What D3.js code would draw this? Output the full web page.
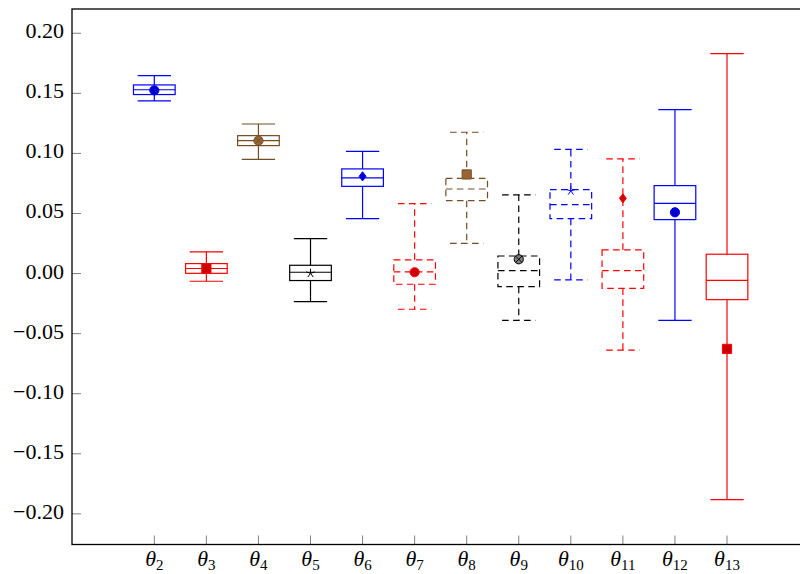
<!DOCTYPE html>
<html>
<head>
<meta charset="utf-8">
<script src="https://cdn.jsdelivr.net/npm/d3@7"></script>
<style>
  body { margin: 0; background: #fff; }
  svg { display: block; }
</style>
</head>
<body>
<script>
// parameter indices shown under each box (theta_2 ... theta_13)
var params = ["2", "3", "4", "5", "6", "7", "8", "9", "10", "11", "12", "13"];

// box plot statistics
var upperWhisker = [0.1647, 0.0181, 0.1245, 0.0291, 0.1017, 0.0582, 0.1176, 0.0655, 0.1034, 0.0954, 0.1364, 0.1830];
var upperQuartile = [0.1570, 0.0083, 0.1148, 0.0069, 0.0871, 0.0114, 0.0793, 0.0146, 0.0699, 0.0197, 0.0732, 0.0161];
var medians = [0.1530, 0.0042, 0.1106, 0.0011, 0.0796, 0.0014, 0.0704, 0.0025, 0.0574, 0.0024, 0.0585, -0.0056];
var lowerQuartile = [0.1490, 0.0002, 0.1065, -0.0058, 0.0726, -0.0089, 0.0607, -0.0109, 0.0458, -0.0123, 0.0449, -0.0217];
var lowerWhisker = [0.1437, -0.0064, 0.0951, -0.0233, 0.0458, -0.0297, 0.0252, -0.0389, -0.0052, -0.0638, -0.0389, -0.1881];
var means = [0.1525, 0.0042, 0.1106, 0.0002, 0.0809, 0.0011, 0.0825, 0.0119, 0.0688, 0.0626, 0.0510, -0.0627];

var yTicks = [-0.20, -0.15, -0.10, -0.05, 0.00, 0.05, 0.10, 0.15, 0.20];

// pgfplots style cycle (line colour, mark fill, dashed, mark)
var styles = [
    {line: "#0000ff", fill: "#0000cc", dashed: false, mark: "circle"},
    {line: "#ff0000", fill: "#cc0000", dashed: false, mark: "square"},
    {line: "#734d26", fill: "#996633", dashed: false, mark: "otimes"},
    {line: "#000000", fill: "none",    dashed: false, mark: "star"},
    {line: "#0000ff", fill: "#0000cc", dashed: false, mark: "diamond"},
    {line: "#ff0000", fill: "#cc0000", dashed: true,  mark: "circle"},
    {line: "#734d26", fill: "#996633", dashed: true,  mark: "square"},
    {line: "#000000", fill: "#808080", dashed: true,  mark: "otimes"},
    {line: "#0000ff", fill: "none",    dashed: true,  mark: "star"},
    {line: "#ff0000", fill: "#cc0000", dashed: true,  mark: "diamond"},
    {line: "#0000ff", fill: "#0000cc", dashed: false, mark: "circle"},
    {line: "#ff0000", fill: "#cc0000", dashed: false, mark: "square"}
];

var boxes = params.map(function(p, i) {
    return {
        pos: i + 1, label: p,
        hi: upperWhisker[i], q3: upperQuartile[i], med: medians[i],
        q1: lowerQuartile[i], lo: lowerWhisker[i], mean: means[i],
        style: styles[i]
    };
});

var width = 800, height = 574;
var plotLeft = 72, plotTop = 9, plotRight = 820, plotBottom = 544.5;
var serif = "'Liberation Serif', 'DejaVu Serif', serif";

var svg = d3.select("body").append("svg")
    .attr("width", width)
    .attr("height", height)
    .attr("font-family", serif);

var x = d3.scaleLinear().domain([-0.581, 13.786]).range([plotLeft, plotRight]);
var y = d3.scaleLinear().domain([-0.2255, 0.2202]).range([plotBottom, plotTop]);

var boxHalf = 0.4;      // box extend 0.8
var capHalf = 0.32;     // whisker extend 0.8 * box extend
var r = 4.6;            // mark size
var dash = "6.6,4.4";   // densely dashed

// axes: ticks inside, labels outside
var yAxis = svg.append("g");
yAxis.selectAll("line").data(yTicks).enter().append("line")
    .attr("x1", plotLeft).attr("x2", plotLeft + 9)
    .attr("y1", function(d) { return y(d); })
    .attr("y2", function(d) { return y(d); })
    .attr("stroke", "#808080").attr("stroke-width", 1);
yAxis.selectAll("text").data(yTicks).enter().append("text")
    .attr("x", 64)
    .attr("y", function(d) { return y(d) + 5; })
    .attr("text-anchor", "end")
    .attr("font-size", "22px")
    .text(function(d) { return d3.format(".2f")(d).replace("-", "\u2212"); });

var xAxis = svg.append("g");
xAxis.selectAll("line").data(boxes).enter().append("line")
    .attr("x1", function(d) { return x(d.pos); })
    .attr("x2", function(d) { return x(d.pos); })
    .attr("y1", plotBottom).attr("y2", plotBottom - 9)
    .attr("stroke", "#808080").attr("stroke-width", 1);
var lbl = xAxis.selectAll("text").data(boxes).enter().append("text")
    .attr("x", function(d) { return x(d.pos); })
    .attr("y", 566)
    .attr("text-anchor", "middle")
    .attr("font-size", "22px");
lbl.append("tspan").attr("font-style", "italic").text("\u03b8");
lbl.append("tspan").attr("font-size", "15px").attr("dy", 4)
    .text(function(d) { return d.label; });

// frame (right side falls outside the window)
svg.append("rect")
    .attr("x", plotLeft).attr("y", plotTop)
    .attr("width", plotRight - plotLeft).attr("height", plotBottom - plotTop)
    .attr("fill", "none").attr("stroke", "#000").attr("stroke-width", 1.3);

// boxes
var g = svg.selectAll("g.box").data(boxes).enter().append("g")
    .attr("class", "box")
    .attr("stroke", function(d) { return d.style.line; })
    .attr("stroke-width", 1.2)
    .attr("fill", "none")
    .attr("stroke-dasharray", function(d) { return d.style.dashed ? dash : null; });

g.append("line")
    .attr("x1", function(d) { return x(d.pos); }).attr("x2", function(d) { return x(d.pos); })
    .attr("y1", function(d) { return y(d.q3); }).attr("y2", function(d) { return y(d.hi); });
g.append("line")
    .attr("x1", function(d) { return x(d.pos); }).attr("x2", function(d) { return x(d.pos); })
    .attr("y1", function(d) { return y(d.q1); }).attr("y2", function(d) { return y(d.lo); });
g.append("line")
    .attr("x1", function(d) { return x(d.pos - capHalf); }).attr("x2", function(d) { return x(d.pos + capHalf); })
    .attr("y1", function(d) { return y(d.hi); }).attr("y2", function(d) { return y(d.hi); });
g.append("line")
    .attr("x1", function(d) { return x(d.pos - capHalf); }).attr("x2", function(d) { return x(d.pos + capHalf); })
    .attr("y1", function(d) { return y(d.lo); }).attr("y2", function(d) { return y(d.lo); });
g.append("rect")
    .attr("x", function(d) { return x(d.pos - boxHalf); })
    .attr("width", function(d) { return x(d.pos + boxHalf) - x(d.pos - boxHalf); })
    .attr("y", function(d) { return y(d.q3); })
    .attr("height", function(d) { return y(d.q1) - y(d.q3); });
g.append("line")
    .attr("x1", function(d) { return x(d.pos - boxHalf); }).attr("x2", function(d) { return x(d.pos + boxHalf); })
    .attr("y1", function(d) { return y(d.med); }).attr("y2", function(d) { return y(d.med); });

// mean marks
function markPath(type) {
    var p = d3.path();
    if (type === "circle" || type === "otimes") {
        p.arc(0, 0, r, 0, 2 * Math.PI);
        if (type === "otimes") {
            var k = r * Math.SQRT1_2;
            p.moveTo(-k, -k); p.lineTo(k, k);
            p.moveTo(-k, k); p.lineTo(k, -k);
        }
    } else if (type === "square") {
        p.rect(-r, -r, 2 * r, 2 * r);
    } else if (type === "diamond") {
        p.moveTo(0, -r); p.lineTo(0.75 * r, 0); p.lineTo(0, r); p.lineTo(-0.75 * r, 0); p.closePath();
    } else if (type === "star") {
        for (var i = 0; i < 5; i++) {
            var a = -Math.PI / 2 + i * 2 * Math.PI / 5;
            p.moveTo(0, 0); p.lineTo(r * Math.cos(a), r * Math.sin(a));
        }
    }
    return p.toString();
}

svg.selectAll("path.mean").data(boxes).enter().append("path")
    .attr("class", "mean")
    .attr("transform", function(d) { return "translate(" + x(d.pos) + "," + y(d.mean) + ")"; })
    .attr("d", function(d) { return markPath(d.style.mark); })
    .attr("fill", function(d) { return d.style.fill; })
    .attr("stroke", function(d) { return d.style.line; })
    .attr("stroke-width", 1);
</script>
</body>
</html>
